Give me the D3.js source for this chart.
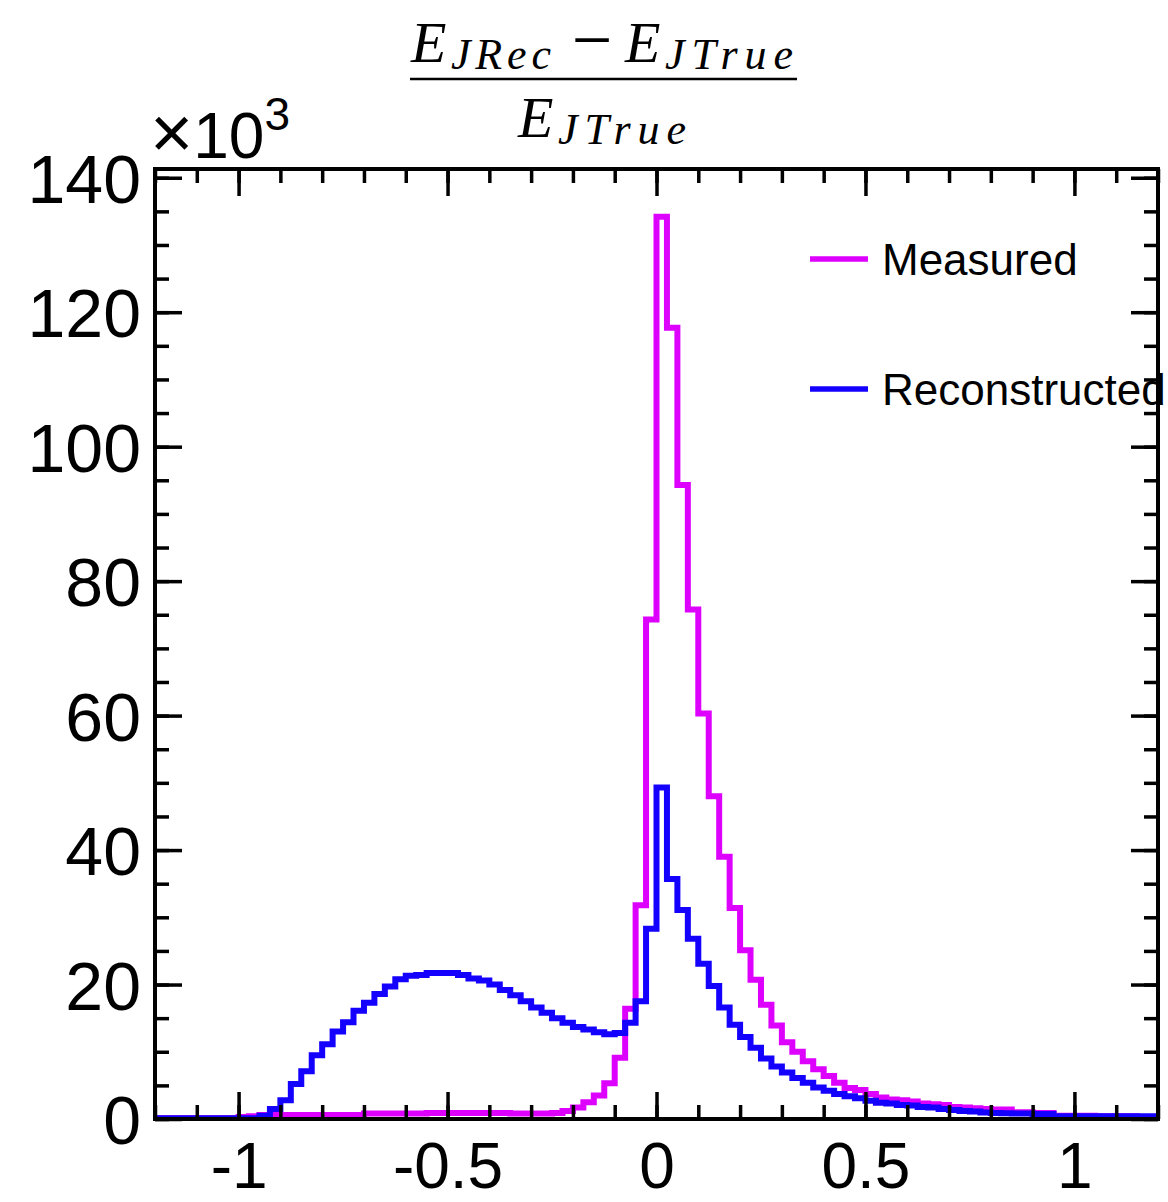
<!DOCTYPE html>
<html>
<head>
<meta charset="utf-8">
<script src="https://cdn.jsdelivr.net/npm/d3@7"></script>
<style>
body { margin: 0; background: #fff; }
</style>
</head>
<body>
<div id="chart"></div>
<script>
// histogram binning: 96 bins of 0.025 from -1.2 to 1.2
const binStart = -1.2;
const binWidth = 0.025;

// counts in thousands, one value per bin
const measured = [
  0.1, 0.1, 0.1, 0.1, 0.1, 0.1, 0.1, 0.1, 0.3, 0.4,
  0.6, 0.6, 0.6, 0.6, 0.6, 0.6, 0.6, 0.6, 0.6, 0.6,
  0.8, 0.8, 0.8, 0.8, 0.8, 0.8, 0.9, 0.9, 0.9, 0.9,
  0.9, 0.9, 0.9, 0.9, 0.8, 0.8, 0.8, 0.8, 0.9, 1.2,
  1.7, 2.5, 3.5, 5.3, 9.1, 16.4, 31.8, 74.3, 134.2, 117.7,
  94.3, 75.8, 60.3, 48.0, 39.0, 31.4, 25.1, 20.7, 17.0, 13.9,
  11.4, 10.0, 8.6, 7.4, 6.4, 5.4, 4.6, 4.3, 3.7, 3.2,
  2.9, 2.8, 2.6, 2.3, 2.2, 2.1, 1.8, 1.7, 1.6, 1.5,
  1.4, 1.4, 1.0, 1.0, 0.9, 0.9, 0.5, 0.5, 0.5, 0.5,
  0.4, 0.4, 0.4, 0.4, 0.3, 0.3
];

const reconstructed = [
  0.1, 0.1, 0.1, 0.1, 0.1, 0.1, 0.1, 0.1, 0.1, 0.1,
  0.5, 1.5, 2.8, 5.2, 7.1, 9.5, 11.1, 13.0, 14.4, 16.1,
  17.3, 18.6, 19.7, 20.8, 21.3, 21.4, 21.7, 21.7, 21.7, 21.4,
  20.9, 20.6, 20.0, 19.2, 18.4, 17.5, 16.6, 15.8, 15.0, 14.3,
  13.7, 13.3, 12.9, 12.6, 12.8, 14.3, 17.5, 28.3, 49.3, 35.7,
  31.1, 26.8, 23.1, 19.8, 16.6, 14.0, 12.2, 10.6, 9.0, 7.8,
  6.9, 6.1, 5.4, 4.7, 4.2, 3.7, 3.4, 3.1, 2.7, 2.4,
  2.3, 2.1, 2.0, 1.8, 1.7, 1.5, 1.35, 1.2, 1.1, 0.95,
  0.9, 0.85, 0.8, 0.8, 0.75, 0.75, 0.4, 0.4, 0.4, 0.4,
  0.4, 0.4, 0.4, 0.4, 0.4, 0.4
];

const seriesNames = ["Measured", "Reconstructed"];
const xTicks = [-1, -0.5, 0, 0.5, 1];
const xTickLabels = ["-1", "-0.5", "0", "0.5", "1"];
const yTicks = [0, 20, 40, 60, 80, 100, 120, 140];

const colors = ["#dd00ff", "#1400ff"];
const sans = "'Liberation Sans', Arial, sans-serif";
const serif = "'Liberation Serif', 'DejaVu Serif', serif";

const width = 1168, height = 1202;
const frame = { left: 155, right: 1158, top: 169, bottom: 1119 };

const svg = d3.select("#chart").append("svg")
  .attr("width", width)
  .attr("height", height)
  .style("font-family", sans);

const x = d3.scaleLinear().domain([-1.2, 1.2]).range([frame.left, frame.right]);
const y = d3.scaleLinear().domain([0, 141.3]).range([frame.bottom, frame.top]);

// clip so thick lines stay inside the frame
svg.append("clipPath").attr("id", "clip")
  .append("rect")
  .attr("x", frame.left).attr("y", frame.top)
  .attr("width", frame.right - frame.left)
  .attr("height", frame.bottom - frame.top);

function stepPoints(values) {
  const pts = values.map((v, i) => [binStart + i * binWidth, v]);
  pts.push([binStart + values.length * binWidth, values[values.length - 1]]);
  return pts;
}

const line = d3.line()
  .x(d => x(d[0]))
  .y(d => y(d[1]))
  .curve(d3.curveStepAfter);

const plot = svg.append("g").attr("clip-path", "url(#clip)");

[measured, reconstructed].forEach((vals, k) => {
  plot.append("path")
    .attr("d", line(stepPoints(vals)))
    .attr("fill", "none")
    .attr("stroke", colors[k])
    .attr("stroke-width", 6)
    .attr("stroke-linejoin", "miter");
});

// axes, ROOT style: ticks inside, on all four sides
const xMinor = d3.range(-1.2, 1.2001, 0.1).map(v => +v.toFixed(2));
const yMinor = d3.range(0, 141, 5);

function styleAxis(g) {
  g.select(".domain").remove();
  g.selectAll("line").attr("stroke", "#000").attr("stroke-width", 3.5);
  g.selectAll("text").attr("fill", "#000").style("font-family", sans);
}

svg.append("g")
  .attr("transform", `translate(0,${frame.bottom})`)
  .call(d3.axisBottom(x).tickValues(xMinor).tickSize(-14).tickFormat(""))
  .call(styleAxis);
svg.append("g")
  .attr("transform", `translate(0,${frame.bottom})`)
  .call(d3.axisBottom(x).tickValues(xTicks).tickSize(-27).tickPadding(24)
    .tickFormat((d, i) => xTickLabels[i]))
  .call(styleAxis)
  .selectAll("text").attr("font-size", 64);

svg.append("g")
  .attr("transform", `translate(0,${frame.top})`)
  .call(d3.axisTop(x).tickValues(xMinor).tickSize(-14).tickFormat(""))
  .call(styleAxis);
svg.append("g")
  .attr("transform", `translate(0,${frame.top})`)
  .call(d3.axisTop(x).tickValues(xTicks).tickSize(-27).tickFormat(""))
  .call(styleAxis);

svg.append("g")
  .attr("transform", `translate(${frame.left},0)`)
  .call(d3.axisLeft(y).tickValues(yMinor).tickSize(-14).tickFormat(""))
  .call(styleAxis);
svg.append("g")
  .attr("transform", `translate(${frame.left},0)`)
  .call(d3.axisLeft(y).tickValues(yTicks).tickSize(-27).tickPadding(14).tickFormat(d3.format("d")))
  .call(styleAxis)
  .selectAll("text").attr("font-size", 68).attr("dy", "0.36em");

svg.append("g")
  .attr("transform", `translate(${frame.right},0)`)
  .call(d3.axisRight(y).tickValues(yMinor).tickSize(-14).tickFormat(""))
  .call(styleAxis);
svg.append("g")
  .attr("transform", `translate(${frame.right},0)`)
  .call(d3.axisRight(y).tickValues(yTicks).tickSize(-27).tickFormat(""))
  .call(styleAxis);

// frame
svg.append("rect")
  .attr("x", frame.left).attr("y", frame.top)
  .attr("width", frame.right - frame.left)
  .attr("height", frame.bottom - frame.top)
  .attr("fill", "none")
  .attr("stroke", "#000")
  .attr("stroke-width", 4);

// x10^3 multiplier
const mult = svg.append("text").attr("x", 150).attr("y", 158).attr("font-size", 64);
mult.append("tspan").attr("font-size", 74).text("\u00d7");
mult.append("tspan").text("10");
mult.append("tspan").attr("font-size", 46).attr("dy", -28).text("3");

// title: fraction (E_JRec - E_JTrue) / E_JTrue
function mathE(x0, yBase, subText, subWidth) {
  svg.append("text").attr("x", x0).attr("y", yBase)
    .attr("font-size", 58)
    .style("font-family", serif).style("font-style", "italic")
    .text("E");
  svg.append("text").attr("x", x0 + 40).attr("y", yBase + 7)
    .attr("font-size", 44)
    .style("font-family", serif).style("font-style", "italic")
    .attr("textLength", subWidth).attr("lengthAdjust", "spacing")
    .text(subText);
}
mathE(411, 62, "JRec", 100);
svg.append("text").attr("x", 592).attr("y", 64)
  .attr("text-anchor", "middle").attr("font-size", 72)
  .style("font-family", serif).text("\u2212");
mathE(625, 62, "JTrue", 128);
svg.append("line")
  .attr("x1", 410).attr("x2", 797)
  .attr("y1", 79).attr("y2", 79)
  .attr("stroke", "#000").attr("stroke-width", 2.5);
mathE(518, 137, "JTrue", 128);

// legend
const legend = svg.append("g");
seriesNames.forEach((name, k) => {
  const ly = 259 + k * 130;
  legend.append("line")
    .attr("x1", 810).attr("x2", 868)
    .attr("y1", ly).attr("y2", ly)
    .attr("stroke", colors[k]).attr("stroke-width", 5.5);
  legend.append("text")
    .attr("x", 882).attr("y", ly)
    .attr("dy", "0.36em")
    .attr("font-size", 44)
    .text(name);
});
</script>
</body>
</html>
